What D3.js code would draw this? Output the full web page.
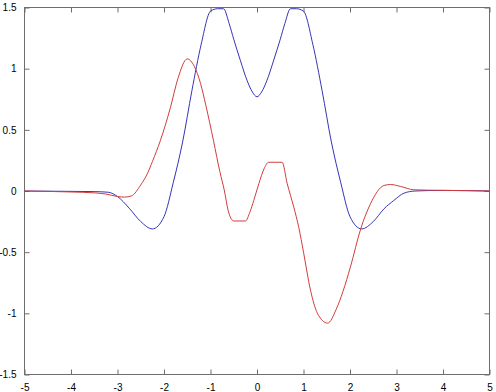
<!DOCTYPE html>
<html>
<head>
<meta charset="utf-8">
<script src="https://cdn.jsdelivr.net/npm/d3@7"></script>
<style>
  html, body { margin: 0; padding: 0; background: #fff; }
  svg { display: block; }
  text { font-family: "Liberation Sans", Arial, Helvetica, sans-serif; font-size: 10px; fill: #000; }
</style>
</head>
<body>
<svg id="chart" width="496" height="392"></svg>
<script>
// ---- data ----
const xTicks = [-5, -4, -3, -2, -1, 0, 1, 2, 3, 4, 5];
const yTicks = [-1.5, -1, -0.5, 0, 0.5, 1, 1.5];

const blueX = [-5, -4, -3.5, -3.2, -3, -2.75, -2.5, -2.25, -2, -1.8, -1.6, -1.4, -1.2, -1.0, -0.85, -0.72, -0.6, -0.5, -0.36, -0.21, -0.1, 0,
               0.1, 0.21, 0.36, 0.5, 0.6, 0.72, 0.85, 1.0, 1.2, 1.4, 1.6, 1.8, 2, 2.25, 2.5, 2.73, 2.94, 3.16, 3.4, 4, 5];
const blueY = [0, -0.003, -0.005, -0.01, -0.045, -0.14, -0.25, -0.31, -0.21, 0.07, 0.4, 0.82, 1.2, 1.47, 1.49, 1.49, 1.37, 1.24, 1.07, 0.9, 0.81, 0.77,
               0.81, 0.9, 1.07, 1.24, 1.37, 1.49, 1.49, 1.47, 1.2, 0.82, 0.4, 0.07, -0.21, -0.31, -0.25, -0.146, -0.078, -0.018, 0.0, 0.005, 0];

const redX = [-5, -4, -3.5, -3.25, -3, -2.85, -2.7, -2.5, -2.36, -2.25, -2.08, -1.86, -1.7, -1.5, -1.35, -1.215, -1.1, -0.935, -0.8, -0.7, -0.62, -0.5, -0.25, -0.15, -0.07, 0.04,
              0.15, 0.25, 0.54, 0.65, 0.79, 0.9, 1.0, 1.15, 1.3, 1.52, 1.7, 1.85, 2.01, 2.23, 2.44, 2.73, 2.87, 3.09, 3.37, 4, 5];
const redY = [0, -0.008, -0.015, -0.025, -0.045, -0.05, -0.04, 0.05, 0.14, 0.24, 0.41, 0.685, 0.92, 1.08, 1.02, 0.88, 0.7, 0.41, 0.16, 0.0, -0.16, -0.245, -0.245, -0.17, -0.078, 0.06,
              0.18, 0.235, 0.235, 0.06, -0.13, -0.3, -0.5, -0.81, -1.0, -1.08, -0.97, -0.82, -0.62, -0.31, -0.105, 0.045, 0.053, 0.037, 0.01, 0.005, 0];

// ---- layout ----
const svg = d3.select("#chart");
const L = 24.5, R = 489.5, T = 7.5, B = 374.5;
const x = d3.scaleLinear().domain([-5, 5]).range([L, R]);
const y = d3.scaleLinear().domain([-1.5, 1.5]).range([B, T]);
const axisColor = "#6e6e6e";
const tickLen = 5;
const fmt = d => String(d);

// box
svg.append("rect").attr("x", L).attr("y", T).attr("width", R - L).attr("height", B - T)
  .attr("fill", "none").attr("stroke", axisColor).attr("stroke-width", 1);

// axes (inward ticks)
const gB = svg.append("g").attr("transform", `translate(0,${B})`)
  .call(d3.axisBottom(x).tickValues(xTicks).tickSize(-tickLen).tickPadding(tickLen + 4).tickFormat(fmt));
const gT = svg.append("g").attr("transform", `translate(0,${T})`)
  .call(d3.axisTop(x).tickValues(xTicks).tickSize(-tickLen).tickFormat(""));
const gL = svg.append("g").attr("transform", `translate(${L},0)`)
  .call(d3.axisLeft(y).tickValues(yTicks).tickSize(-tickLen).tickPadding(tickLen + 3).tickFormat(fmt));
const gR = svg.append("g").attr("transform", `translate(${R},0)`)
  .call(d3.axisRight(y).tickValues(yTicks).tickSize(-tickLen).tickFormat(""));

[gB, gT, gL, gR].forEach(g => {
  g.select(".domain").remove();
  g.selectAll(".tick line").attr("stroke", axisColor);
  g.selectAll("text").attr("fill", "#000").style("font-size", "10px")
    .style("font-family", '"Liberation Sans", Arial, Helvetica, sans-serif');
});
gB.selectAll("text").attr("dy", "0.71em");

// ---- lines ----
const line = d3.line().x(d => x(d[0])).y(d => y(d[1])).curve(d3.curveMonotoneX);
svg.append("clipPath").attr("id", "clip").append("rect")
  .attr("x", L).attr("y", T).attr("width", R - L).attr("height", B - T);

svg.append("path").datum(blueX.map((v, i) => [v, blueY[i]]))
  .attr("d", line).attr("fill", "none").attr("stroke", "#3535b5").attr("stroke-width", 1)
  .attr("clip-path", "url(#clip)");
svg.append("path").datum(redX.map((v, i) => [v, redY[i]]))
  .attr("d", line).attr("fill", "none").attr("stroke", "#d23c3c").attr("stroke-width", 1)
  .attr("clip-path", "url(#clip)");
</script>
</body>
</html>
